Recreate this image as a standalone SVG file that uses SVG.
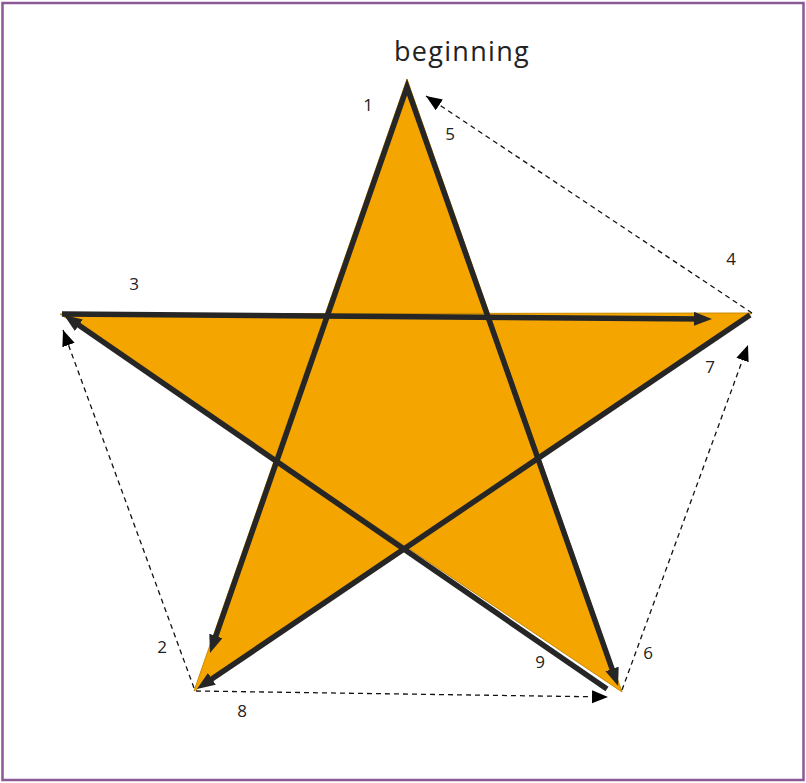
<svg xmlns="http://www.w3.org/2000/svg" width="806" height="783" viewBox="0 0 806 783">
<style>
.lbl{font-family:"Open Sans",Lato,"DejaVu Sans",sans-serif;font-size:17px;fill:#222;text-anchor:middle}
.title{font-family:"Open Sans",Lato,"DejaVu Sans",sans-serif;font-size:27px;fill:#222;text-anchor:middle;letter-spacing:1.3px}
.thick{fill:none;stroke:#262626;stroke-width:5.5;stroke-linejoin:miter}
.dash{fill:none;stroke:#111;stroke-width:1.3;stroke-dasharray:5,4}
</style>
<defs>
<marker id="ah" markerUnits="userSpaceOnUse" markerWidth="20" markerHeight="16" refX="10" refY="7" orient="auto-start-reverse">
<path d="M0,0 L18,7 L0,14 z" fill="#262626"/>
</marker>
<marker id="ahd" markerUnits="userSpaceOnUse" markerWidth="18" markerHeight="14" refX="16" refY="6.5" orient="auto">
<path d="M0,0 L16,6.5 L0,13 z" fill="#000"/>
</marker>
</defs>
<rect x="2.5" y="3" width="801" height="777" fill="#fff" stroke="#8b5a96" stroke-width="2.5"/>
<g id="star">
<polygon points="407,79 194,691 752,313 60,314 622,692" fill="#f5a500" fill-rule="nonzero" stroke="#c88a00" stroke-width="1"/>
</g>
<g id="connectors">
<path class="thick" d="M212.6,645.4 L407,87 L615.4,678.4" marker-start="url(#ah)" marker-end="url(#ah)"/>
<path class="thick" d="M62,314 L704,318.9" marker-end="url(#ah)"/>
<path class="thick" d="M750,315 L203.6,684.5" marker-end="url(#ah)"/>
<path class="thick" d="M607,689 L70.6,319.5" marker-end="url(#ah)"/>
<path class="dash" d="M194,688 L63,330" marker-end="url(#ahd)"/>
<path class="dash" d="M752,313 L426,96" marker-end="url(#ahd)"/>
<path class="dash" d="M622,690 L748,345" marker-end="url(#ahd)"/>
<path class="dash" d="M196,691 L608,697" marker-end="url(#ahd)"/>
</g>
<g id="labels">
<text class="title" x="462" y="61">beginning</text>
<text class="lbl" x="368" y="111">1</text>
<text class="lbl" x="162" y="653">2</text>
<text class="lbl" x="134" y="290">3</text>
<text class="lbl" x="731" y="265">4</text>
<text class="lbl" x="450" y="140">5</text>
<text class="lbl" x="648" y="659">6</text>
<text class="lbl" x="710" y="373">7</text>
<text class="lbl" x="242" y="717">8</text>
<text class="lbl" x="540" y="668">9</text>
</g>
</svg>
